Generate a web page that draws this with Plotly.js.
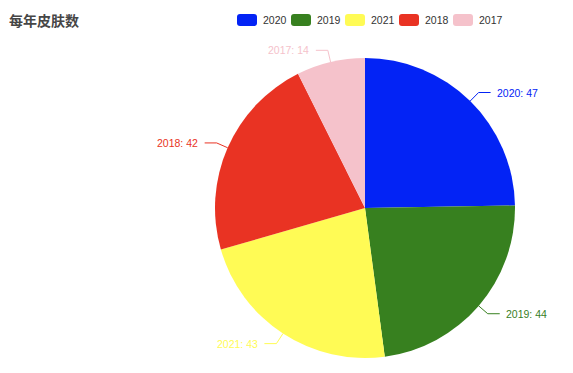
<!DOCTYPE html>
<html><head><meta charset="utf-8">
<script src="https://cdn.plot.ly/plotly-3.0.1.min.js"></script>
<style>html,body{margin:0;padding:0;background:#fff}#chart{width:573px;height:373px}</style>
</head><body><div id="chart"></div>
<script>
var titleText = '每年皮肤数';
var categories = ['2020', '2019', '2021', '2018', '2017'];
var values = [47, 44, 43, 42, 14];
var colors = ['#0323f5', '#37801f', '#fffb55', '#e93323', '#f5c2cb'];

var W = 573, H = 373;
var cx = 365, cy = 208, R = 150;
function px(x){ return x / W; }
function py(y){ return 1 - y / H; }

var trace = {
  type: 'pie', labels: categories, values: values, sort: false,
  direction: 'clockwise', rotation: 0,
  marker: {colors: colors, line: {width: 0}},
  textinfo: 'none', hoverinfo: 'label+value+percent',
  domain: {x: [px(cx - R), px(cx + R)], y: [py(cy + R), py(cy - R)]},
  showlegend: false
};

var shapes = [], annotations = [];
var total = values.reduce(function(a,b){return a+b;}, 0);
var cum = 0;
var len1 = 12, len2 = 12, gap = 4.5;
for (var i = 0; i < values.length; i++) {
  var mid = (cum + values[i] / 2) / total * 2 * Math.PI;
  cum += values[i];
  var s = Math.sin(mid), c = Math.cos(mid);
  var x0 = cx + R * s, y0 = cy - R * c;
  var x1 = cx + (R + len1) * s, y1 = cy - (R + len1) * c;
  var right = s >= 0;
  var x2 = x1 + (right ? len2 : -len2);
  shapes.push({type: 'path', xref: 'paper', yref: 'paper',
    path: 'M ' + px(x0) + ' ' + py(y0) + ' L ' + px(x1) + ' ' + py(y1) + ' L ' + px(x2) + ' ' + py(y1),
    line: {color: colors[i], width: 1}});
  annotations.push({xref: 'paper', yref: 'paper', x: px(x2 + (right ? gap : -gap)), y: py(y1),
    xanchor: right ? 'left' : 'right', yanchor: 'middle', showarrow: false,
    text: categories[i] + ': ' + values[i],
    font: {family: 'Liberation Sans, Arial, sans-serif', size: 10.5, color: colors[i]}});
}

// custom legend
var legX = 237, legY = 20, rw = 20, rh = 12, rr = 3, step = 54;
function rrect(x, y, w, h, r){
  var pts = [
    'M', px(x + r), py(y),
    'L', px(x + w - r), py(y),
    'Q', px(x + w), py(y), px(x + w), py(y + r),
    'L', px(x + w), py(y + h - r),
    'Q', px(x + w), py(y + h), px(x + w - r), py(y + h),
    'L', px(x + r), py(y + h),
    'Q', px(x), py(y + h), px(x), py(y + h - r),
    'L', px(x), py(y + r),
    'Q', px(x), py(y), px(x + r), py(y), 'Z'];
  return pts.join(' ');
}
for (var j = 0; j < categories.length; j++) {
  var lx = legX + j * step;
  shapes.push({type: 'path', xref: 'paper', yref: 'paper', path: rrect(lx, legY - rh/2, rw, rh, rr),
    fillcolor: colors[j], line: {width: 0}});
  annotations.push({xref: 'paper', yref: 'paper', x: px(lx + rw + 4), y: py(legY),
    xanchor: 'left', yanchor: 'middle', showarrow: false, text: categories[j],
    font: {family: 'Liberation Sans, Arial, sans-serif', size: 10.5, color: '#333'}});
}

var layout = {
  width: W, height: H, margin: {l: 0, r: 0, t: 0, b: 0},
  paper_bgcolor: '#fff', showlegend: false,
  title: {text: '<b>' + titleText + '</b>', x: px(9), xanchor: 'left', y: py(21), yanchor: 'middle',
    font: {family: 'Noto Sans CJK SC, sans-serif', size: 14, color: '#464646'}},
  shapes: shapes, annotations: annotations
};
Plotly.newPlot('chart', [trace], layout, {displayModeBar: false, staticPlot: true});
</script></body></html>
